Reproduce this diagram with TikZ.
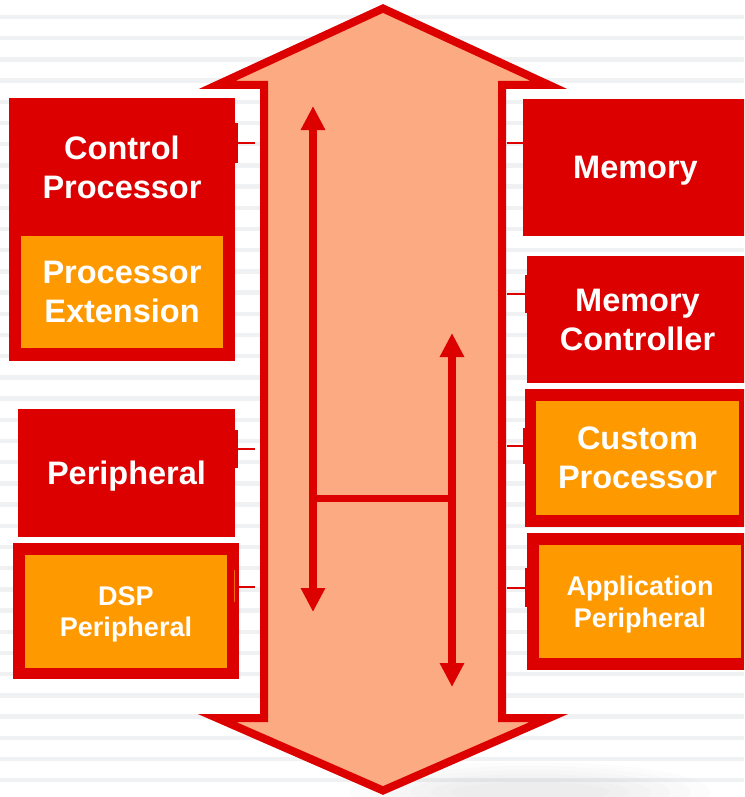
\documentclass[tikz,border=0pt]{standalone}
\usepackage{fontspec}
\setmainfont{Liberation Sans}
\usetikzlibrary{arrows.meta}
\definecolor{bred}{RGB}{220,0,0}
\definecolor{borange}{RGB}{255,153,0}
\definecolor{salmon}{RGB}{252,170,130}
\definecolor{stripecol}{RGB}{239,241,243}
\newcommand\zdp[1]{\raisebox{0pt}[\height][0pt]{#1}}
\begin{document}
\begin{tikzpicture}[x=1pt,y=-1pt,
  box/.style={rectangle,inner sep=0pt,draw=none,text=white,align=center},
  redbox/.style={box,fill=bred},
  orangebox/.style={box,fill=borange},
  bigtext/.style={font=\fontsize{32.5}{39}\selectfont\bfseries},
  smalltext/.style={font=\fontsize{27}{31.5}\selectfont\bfseries},
  conn/.style={draw=bred,line width=2.5pt},
  tab/.style={fill=bred},
  busarrow/.style={draw=bred,line width=7.5pt,{Triangle[width=23pt,length=24pt]}-{Triangle[width=23pt,length=24pt]}},
  busbar/.style={draw=bred,line width=7pt},
  bigbus/.style={draw=bred,fill=salmon,line width=8pt,miter limit=10}]
\useasboundingbox (0,0) rectangle (744,797);
\clip (0,0) rectangle (744,797);
% background
\fill[white] (0,0) rectangle (744,797);
\foreach \k in {0,...,37}
  \draw[stripecol,line width=4.5pt] (0,{17+21.2*\k}) -- (744,{17+21.2*\k});
\foreach \r in {1,...,6}
  \fill[gray,opacity=0.02] (530,792) ellipse ({60+20*\r} and {6+4*\r});
% big double arrow (bus)
\draw[bigbus] (383,8.5) -- (549,85) -- (502,85) -- (502,718) -- (549,718)
  -- (383,790.5) -- (217,718) -- (264,718) -- (264,85) -- (217,85) -- cycle;
% inner arrows
\coordinate (la1) at (313,106);
\coordinate (la2) at (313,612);
\coordinate (ra1) at (452,333);
\coordinate (ra2) at (452,687);
\coordinate (lj) at (313,498);
\coordinate (rj) at (452,498);
\draw[busarrow] (la1) -- (la2);
\draw[busarrow] (ra1) -- (ra2);
\draw[busbar] (lj) -- (rj);
% left blocks
\node[redbox,bigtext,minimum width=226pt,minimum height=138pt,text depth=0pt] (cp) at (122,167) {Control\\Processor};
\node[redbox,minimum width=226pt,minimum height=125pt] (pef) at (122,298.5) {};
\node[orangebox,bigtext,minimum width=202pt,minimum height=112pt] (pe) at (122,292) {Processor\\Extension};
\node[redbox,bigtext,minimum width=217pt,minimum height=128pt] (per) at (126.5,473) {\zdp{Peripheral}};
\node[redbox,minimum width=226pt,minimum height=136pt] (dspf) at (126,611) {};
\node[orangebox,smalltext,minimum width=202pt,minimum height=113pt] (dsp) at (126,611.5) {DSP\\\zdp{Peripheral}};
% right blocks
\node[redbox,bigtext,minimum width=225pt,minimum height=137pt] (mem) at (635.5,167.5) {\zdp{Memory}};
\node[redbox,bigtext,minimum width=221pt,minimum height=127pt] (mc) at (637.5,319.5) {Memory\\Controller};
\node[redbox,minimum width=223pt,minimum height=138pt] (cpf) at (636.5,458) {};
\node[orangebox,bigtext,minimum width=203pt,minimum height=114pt] (cust) at (637.5,458) {Custom\\Processor};
\node[redbox,minimum width=221pt,minimum height=137pt] (apf) at (637.5,601.5) {};
\node[orangebox,smalltext,minimum width=202pt,minimum height=113pt] (app) at (640,601.5) {Application\\\zdp{Peripheral}};
% connection points on the bus
\coordinate (b1) at (255,143);
\coordinate (b2) at (255,449);
\coordinate (b3) at (255,587);
\coordinate (b4) at (507,143);
\coordinate (b5) at (507,294);
\coordinate (b6) at (507,446);
\coordinate (b7) at (507,588);
% tabs
\fill[tab] (235,123) rectangle (238,163);
\fill[tab] (235,430) rectangle (238,468);
\draw[borange!70!bred,line width=1pt] (234,570) -- (234,602);
\fill[tab] (524.5,275) rectangle (527,313);
\fill[tab] (523,428) rectangle (525.5,464);
\fill[tab] (524.5,568) rectangle (527.5,607);
% connectors
\draw[conn] (cp.east |- b1) -- (b1);
\draw[conn] (per.east |- b2) -- (b2);
\draw[conn] (dspf.east |- b3) -- (b3);
\draw[conn] (mem.west |- b4) -- (b4);
\draw[conn] (mc.west |- b5) -- (b5);
\draw[conn] (cpf.west |- b6) -- (b6);
\draw[conn] (apf.west |- b7) -- (b7);
\end{tikzpicture}
\end{document}
